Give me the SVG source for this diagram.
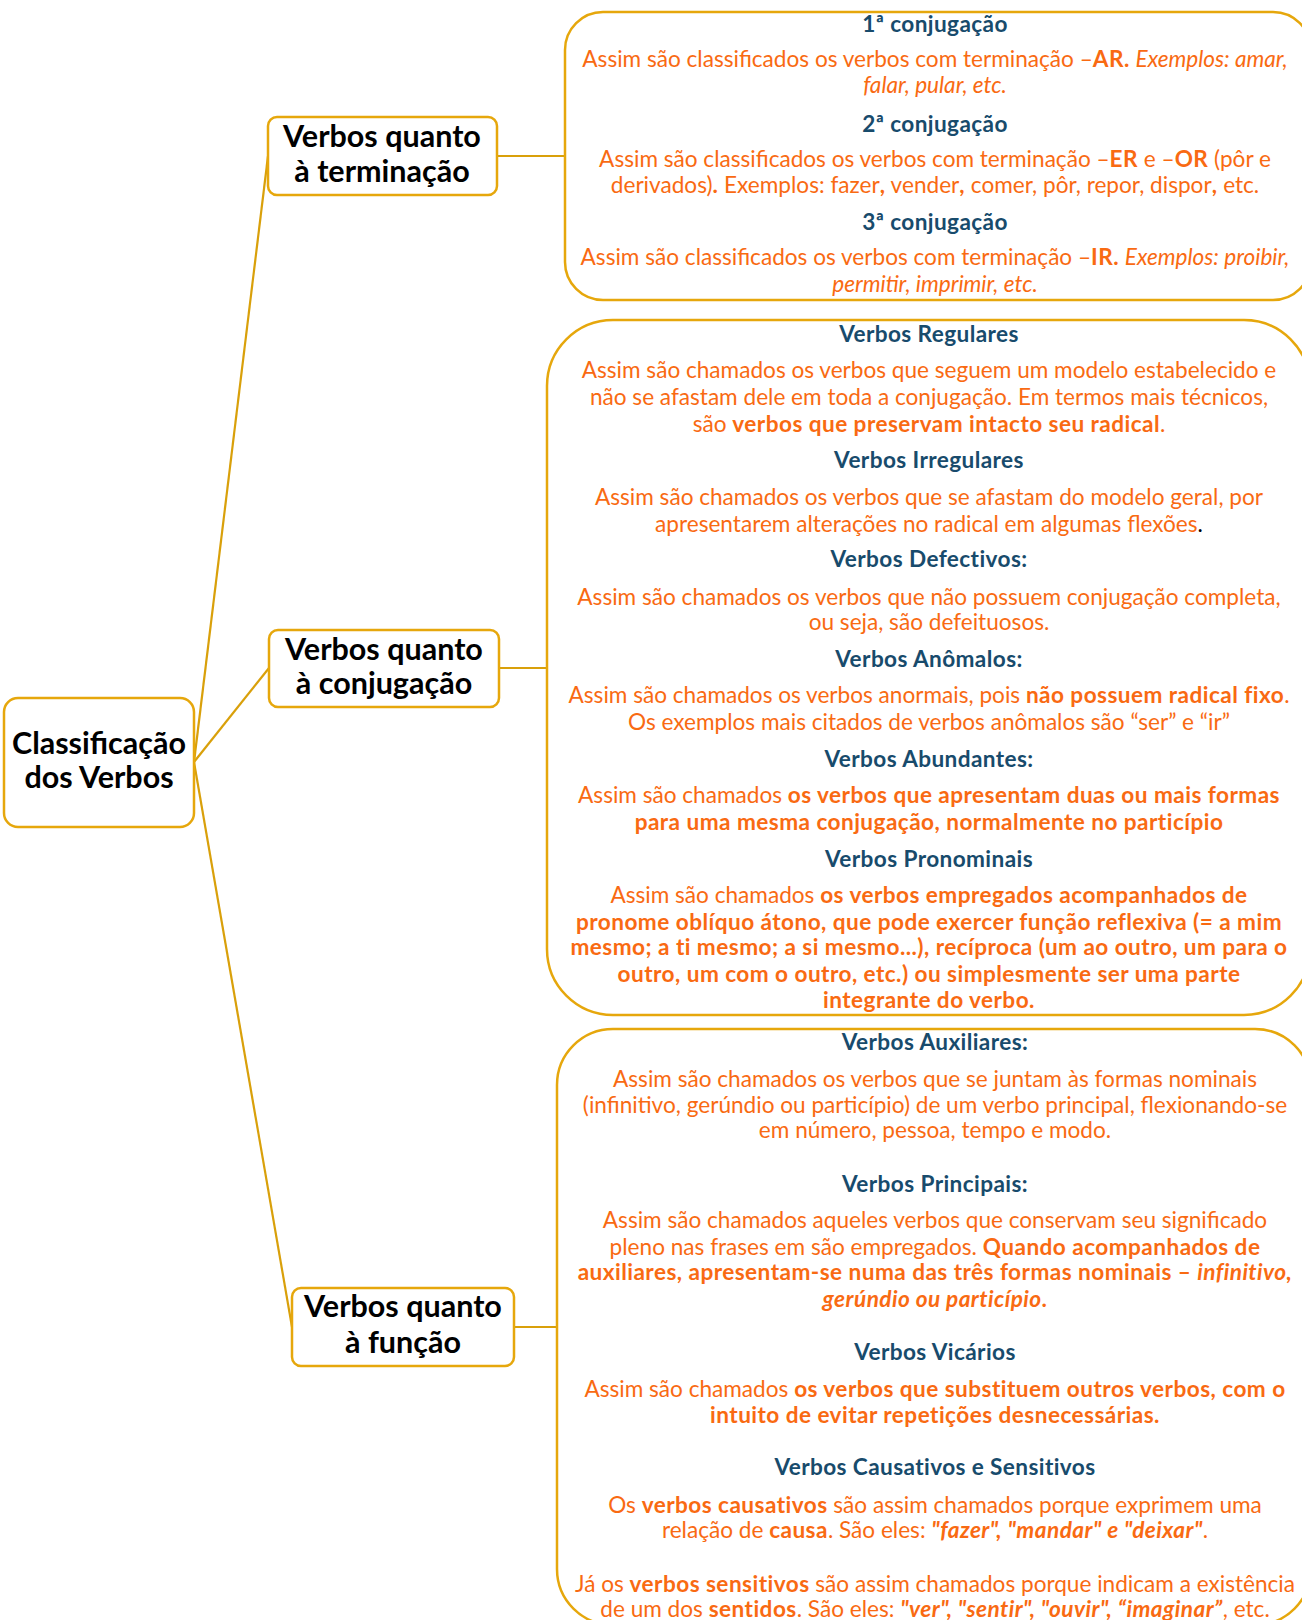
<svg xmlns="http://www.w3.org/2000/svg" width="1302" height="1620" viewBox="0 0 1302 1620">
<style>
.box{fill:#fff;stroke:#E6A70C;stroke-width:2.5}
.panel{fill:#fff;stroke:#E6A70C;stroke-width:2.5}
.edge{fill:none;stroke:#D9A00A;stroke-width:2.2}
.n{font-family:Lato,"Open Sans",sans-serif;font-weight:700;font-size:30.5px;fill:#000;text-anchor:middle}
.h{font-family:Lato,"Open Sans",sans-serif;font-weight:700;font-size:22.6px;letter-spacing:0.4px;fill:#184B6C;text-anchor:middle}
.t{font-family:Lato,"Open Sans",sans-serif;font-size:22.6px;fill:#F96A12;text-anchor:middle}
.b{font-weight:700;letter-spacing:0.45px}
.i{font-style:italic}
.k{fill:#000}
</style>
<rect width="1302" height="1620" fill="#fff"/>
<g id="connectors">
<path class="edge" d="M194,762 L268,156"/>
<path class="edge" d="M194,762 L269,668"/>
<path class="edge" d="M194,762 L292,1327"/>
<path class="edge" d="M497,156 L565,156"/>
<path class="edge" d="M499,668 L547,668"/>
<path class="edge" d="M514,1327 L557,1327"/>
</g>
<g id="root">
<rect class="box" x="4" y="698" width="190" height="129" rx="14"/>
<text class="n" x="99" y="754">Classificação</text>
<text class="n" x="99" y="788">dos Verbos</text>
</g>
<g id="node-terminacao">
<rect class="box" x="268" y="117" width="229" height="78" rx="9"/>
<text class="n" x="382" y="147">Verbos quanto</text>
<text class="n" x="382" y="182">à terminação</text>
</g>
<g id="node-conjugacao">
<rect class="box" x="269" y="630" width="230" height="77" rx="9"/>
<text class="n" x="384" y="660">Verbos quanto</text>
<text class="n" x="384" y="694">à conjugação</text>
</g>
<g id="node-funcao">
<rect class="box" x="292" y="1288" width="222" height="78" rx="9"/>
<text class="n" x="403" y="1317">Verbos quanto</text>
<text class="n" x="403" y="1353">à função</text>
</g>
<g id="panel-terminacao">
<rect class="panel" x="565" y="12" width="746" height="288" rx="38"/>
<text class="h" x="935" y="32">1ª conjugação</text>
<text class="t" x="935" y="67">Assim são classificados os verbos com terminação –<tspan class="b">AR.</tspan> <tspan class="i">Exemplos: amar,</tspan></text>
<text class="t i" x="935" y="93">falar, pular, etc.</text>
<text class="h" x="935" y="132">2ª conjugação</text>
<text class="t" x="935" y="167">Assim são classificados os verbos com terminação –<tspan class="b">ER</tspan> e –<tspan class="b">OR</tspan> (pôr e</text>
<text class="t" x="935" y="193">derivados)<tspan class="b">.</tspan> Exemplos: fazer<tspan class="b">,</tspan> vender<tspan class="b">,</tspan> comer, pôr, repor, dispor<tspan class="b">,</tspan> etc.</text>
<text class="h" x="935" y="230">3ª conjugação</text>
<text class="t" x="935" y="265">Assim são classificados os verbos com terminação –<tspan class="b">IR.</tspan> <tspan class="i">Exemplos: proibir,</tspan></text>
<text class="t i" x="935" y="292">permitir, imprimir, etc.</text>
</g>
<g id="panel-conjugacao">
<rect class="panel" x="547" y="320" width="763" height="695" rx="66"/>
<text class="h" x="929" y="342">Verbos Regulares</text>
<text class="t" x="929" y="378">Assim são chamados os verbos que seguem um modelo estabelecido e</text>
<text class="t" x="929" y="405">não se afastam dele em toda a conjugação. Em termos mais técnicos,</text>
<text class="t" x="929" y="432">são <tspan class="b">verbos que preservam intacto seu radical</tspan>.</text>
<text class="h" x="929" y="468">Verbos Irregulares</text>
<text class="t" x="929" y="505">Assim são chamados os verbos que se afastam do modelo geral, por</text>
<text class="t" x="929" y="532">apresentarem alterações no radical em algumas flexões<tspan class="k">.</tspan></text>
<text class="h" x="929" y="567">Verbos Defectivos:</text>
<text class="t" x="929" y="605">Assim são chamados os verbos que não possuem conjugação completa,</text>
<text class="t" x="929" y="630">ou seja, são defeituosos.</text>
<text class="h" x="929" y="667">Verbos Anômalos:</text>
<text class="t" x="929" y="703">Assim são chamados os verbos anormais, pois <tspan class="b">não possuem radical fixo</tspan>.</text>
<text class="t" x="929" y="730">Os exemplos mais citados de verbos anômalos são “ser” e “ir”</text>
<text class="h" x="929" y="767">Verbos Abundantes:</text>
<text class="t" x="929" y="803">Assim são chamados <tspan class="b">os verbos que apresentam duas ou mais formas</tspan></text>
<text class="t b" x="929" y="830">para uma mesma conjugação, normalmente no particípio</text>
<text class="h" x="929" y="867">Verbos Pronominais</text>
<text class="t" x="929" y="903">Assim são chamados <tspan class="b">os verbos empregados acompanhados de</tspan></text>
<text class="t b" x="929" y="930">pronome oblíquo átono, que pode exercer função reflexiva (= a mim</text>
<text class="t b" x="929" y="955">mesmo; a ti mesmo; a si mesmo...), recíproca (um ao outro, um para o</text>
<text class="t b" x="929" y="982">outro, um com o outro, etc.) ou simplesmente ser uma parte</text>
<text class="t b" x="929" y="1008">integrante do verbo.</text>
</g>
<g id="panel-funcao">
<rect class="panel" x="557" y="1029" width="754" height="596" rx="56"/>
<text class="h" x="935" y="1050">Verbos Auxiliares:</text>
<text class="t" x="935" y="1087">Assim são chamados os verbos que se juntam às formas nominais</text>
<text class="t" x="935" y="1113">(infinitivo, gerúndio ou particípio) de um verbo principal, flexionando-se</text>
<text class="t" x="935" y="1138">em número, pessoa, tempo e modo.</text>
<text class="h" x="935" y="1192">Verbos Principais:</text>
<text class="t" x="935" y="1228">Assim são chamados aqueles verbos que conservam seu significado</text>
<text class="t" x="935" y="1255">pleno nas frases em são empregados. <tspan class="b">Quando acompanhados de</tspan></text>
<text class="t b" x="935" y="1280">auxiliares, apresentam-se numa das três formas nominais – <tspan class="i">infinitivo,</tspan></text>
<text class="t b" x="935" y="1307"><tspan class="i">gerúndio ou particípio</tspan>.</text>
<text class="h" x="935" y="1360">Verbos Vicários</text>
<text class="t" x="935" y="1397">Assim são chamados <tspan class="b">os verbos que substituem outros verbos, com o</tspan></text>
<text class="t b" x="935" y="1423">intuito de evitar repetições desnecessárias.</text>
<text class="h" x="935" y="1475">Verbos Causativos e Sensitivos</text>
<text class="t" x="935" y="1513">Os <tspan class="b">verbos causativos</tspan> são assim chamados porque exprimem uma</text>
<text class="t" x="935" y="1538">relação de <tspan class="b">causa</tspan>. São eles:  <tspan class="b i">"fazer", "mandar" e "deixar"</tspan>.</text>
<text class="t" x="935" y="1592">Já os <tspan class="b">verbos sensitivos</tspan> são assim chamados porque indicam a existência</text>
<text class="t" x="935" y="1617">de um dos <tspan class="b">sentidos</tspan>. São eles: <tspan class="b i">"ver", "sentir", "ouvir", “imaginar”</tspan>, etc.</text>
</g>
</svg>
